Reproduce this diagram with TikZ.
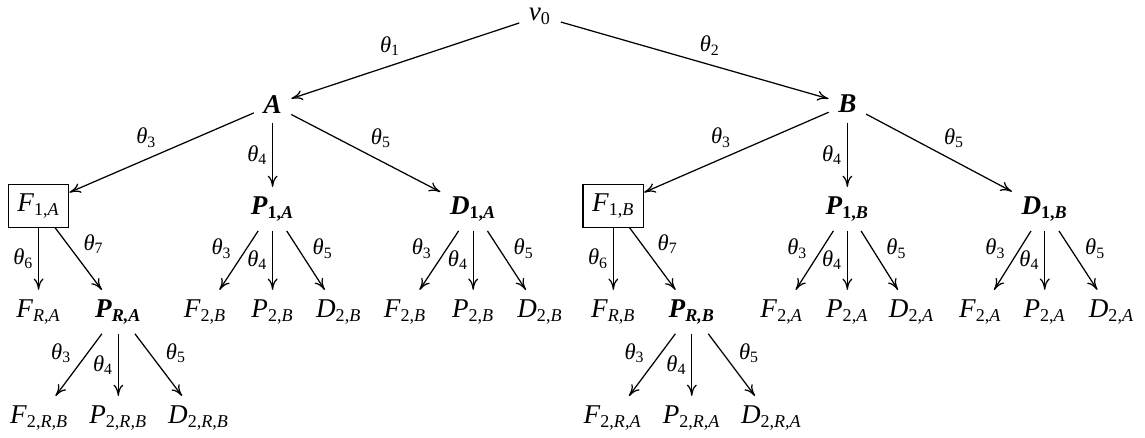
\documentclass[tikz,border=0pt,12pt]{standalone}
\usepackage{tikz}
\usetikzlibrary{arrows.meta}
\usepackage{fontspec}
\setmainfont{Liberation Serif}

% node texts: letter with subscript, bold version, edge weight
\newcommand{\nd}[2]{\textit{#1}\textsubscript{#2}}
\newcommand{\bnd}[2]{\textbf{\textit{#1}\textsubscript{#2}}}
\newcommand{\thet}[1]{\textit{θ}\textsubscript{#1}}

\begin{document}
\begin{tikzpicture}[line width=0.55pt,>={To[length=5pt,width=4.4pt]},
  lbl/.style={midway,font=\footnotesize,inner sep=2pt},
  boxed/.style={draw,line width=0.5pt}]
\useasboundingbox (0,0) rectangle (17.81,-6.81);

% root and first level
\node[] (vz) at (8.40,-0.25) {\nd{v}{0}};
\node[] (a) at (4.24,-1.63) {\textbf{\textit{A}}};
\node[] (b) at (13.18,-1.62) {\textbf{\textit{B}}};

\draw [->](vz)--(a) node[lbl,above left]{\thet{1}};
\draw [->](vz)--(b) node[lbl,above right]{\thet{2}};

% second level
\node[boxed] (fa) at (0.60,-3.20) {\nd{F}{1,\textit{A}}};
\node[] (pa) at (4.24,-3.25) {\bnd{P}{1,\textit{A}}};
\node[] (da) at (7.36,-3.25) {\bnd{D}{1,\textit{A}}};
\node[boxed] (fb) at (9.54,-3.20) {\nd{F}{1,\textit{B}}};
\node[] (pb) at (13.18,-3.25) {\bnd{P}{1,\textit{B}}};
\node[] (db) at (16.25,-3.25) {\bnd{D}{1,\textit{B}}};

\draw [->](a)--(fa) node[lbl,above left]{\thet{3}};
\draw [->](a)--(pa) node[lbl,left]{\thet{4}};
\draw [->](a)--(da) node[lbl,above right]{\thet{5}};
\draw [->](b)--(fb) node[lbl,above left]{\thet{3}};
\draw [->](b)--(pb) node[lbl,left]{\thet{4}};
\draw [->](b)--(db) node[lbl,above right]{\thet{5}};

% third level
\node[] (fra) at (0.60,-4.85) {\nd{F}{\textit{R,A}}};
\node[] (pra) at (1.84,-4.85) {\bnd{P}{\textit{R,A}}};
\node[] (fpa) at (3.19,-4.85) {\nd{F}{2,\textit{B}}};
\node[] (ppa) at (4.24,-4.85) {\nd{P}{2,\textit{B}}};
\node[] (dpa) at (5.27,-4.85) {\nd{D}{2,\textit{B}}};
\node[] (fda) at (6.30,-4.85) {\nd{F}{2,\textit{B}}};
\node[] (pda) at (7.36,-4.85) {\nd{P}{2,\textit{B}}};
\node[] (dda) at (8.40,-4.85) {\nd{D}{2,\textit{B}}};
\node[] (frb) at (9.54,-4.85) {\nd{F}{\textit{R,B}}};
\node[] (prb) at (10.76,-4.85) {\bnd{P}{\textit{R,B}}};
\node[] (fpb) at (12.16,-4.85) {\nd{F}{2,\textit{A}}};
\node[] (ppb) at (13.18,-4.85) {\nd{P}{2,\textit{A}}};
\node[] (dpb) at (14.18,-4.85) {\nd{D}{2,\textit{A}}};
\node[] (fdb) at (15.25,-4.85) {\nd{F}{2,\textit{A}}};
\node[] (pdb) at (16.25,-4.85) {\nd{P}{2,\textit{A}}};
\node[] (ddb) at (17.29,-4.85) {\nd{D}{2,\textit{A}}};

\draw [->](fa)--(fra) node[lbl,left]{\thet{6}};
\draw [->](fa)--(pra) node[lbl,above right]{\thet{7}};
\draw [->](fb)--(frb) node[lbl,left]{\thet{6}};
\draw [->](fb)--(prb) node[lbl,above right]{\thet{7}};

\draw [->](pa)--(fpa) node[lbl,pos=.55,above left]{\thet{3}};
\draw [->](pa)--(ppa) node[lbl,left]{\thet{4}};
\draw [->](pa)--(dpa) node[lbl,pos=.55,above right]{\thet{5}};
\draw [->](da)--(fda) node[lbl,pos=.55,above left]{\thet{3}};
\draw [->](da)--(pda) node[lbl,left]{\thet{4}};
\draw [->](da)--(dda) node[lbl,pos=.55,above right]{\thet{5}};
\draw [->](pb)--(fpb) node[lbl,pos=.55,above left]{\thet{3}};
\draw [->](pb)--(ppb) node[lbl,left]{\thet{4}};
\draw [->](pb)--(dpb) node[lbl,pos=.55,above right]{\thet{5}};
\draw [->](db)--(fdb) node[lbl,pos=.55,above left]{\thet{3}};
\draw [->](db)--(pdb) node[lbl,left]{\thet{4}};
\draw [->](db)--(ddb) node[lbl,pos=.55,above right]{\thet{5}};

% fourth level
\node[] (fpra) at (0.61,-6.50) {\nd{F}{2,\textit{R,B}}};
\node[] (ppra) at (1.84,-6.50) {\nd{P}{2,\textit{R,B}}};
\node[] (dpra) at (3.09,-6.50) {\nd{D}{2,\textit{R,B}}};
\node[] (fprb) at (9.53,-6.50) {\nd{F}{2,\textit{R,A}}};
\node[] (pprb) at (10.76,-6.50) {\nd{P}{2,\textit{R,A}}};
\node[] (dprb) at (12.00,-6.50) {\nd{D}{2,\textit{R,A}}};

\draw [->](pra)--(fpra) node[lbl,pos=.55,above left]{\thet{3}};
\draw [->](pra)--(ppra) node[lbl,left]{\thet{4}};
\draw [->](pra)--(dpra) node[lbl,pos=.55,above right]{\thet{5}};
\draw [->](prb)--(fprb) node[lbl,pos=.55,above left]{\thet{3}};
\draw [->](prb)--(pprb) node[lbl,left]{\thet{4}};
\draw [->](prb)--(dprb) node[lbl,pos=.55,above right]{\thet{5}};
\end{tikzpicture}
\end{document}
